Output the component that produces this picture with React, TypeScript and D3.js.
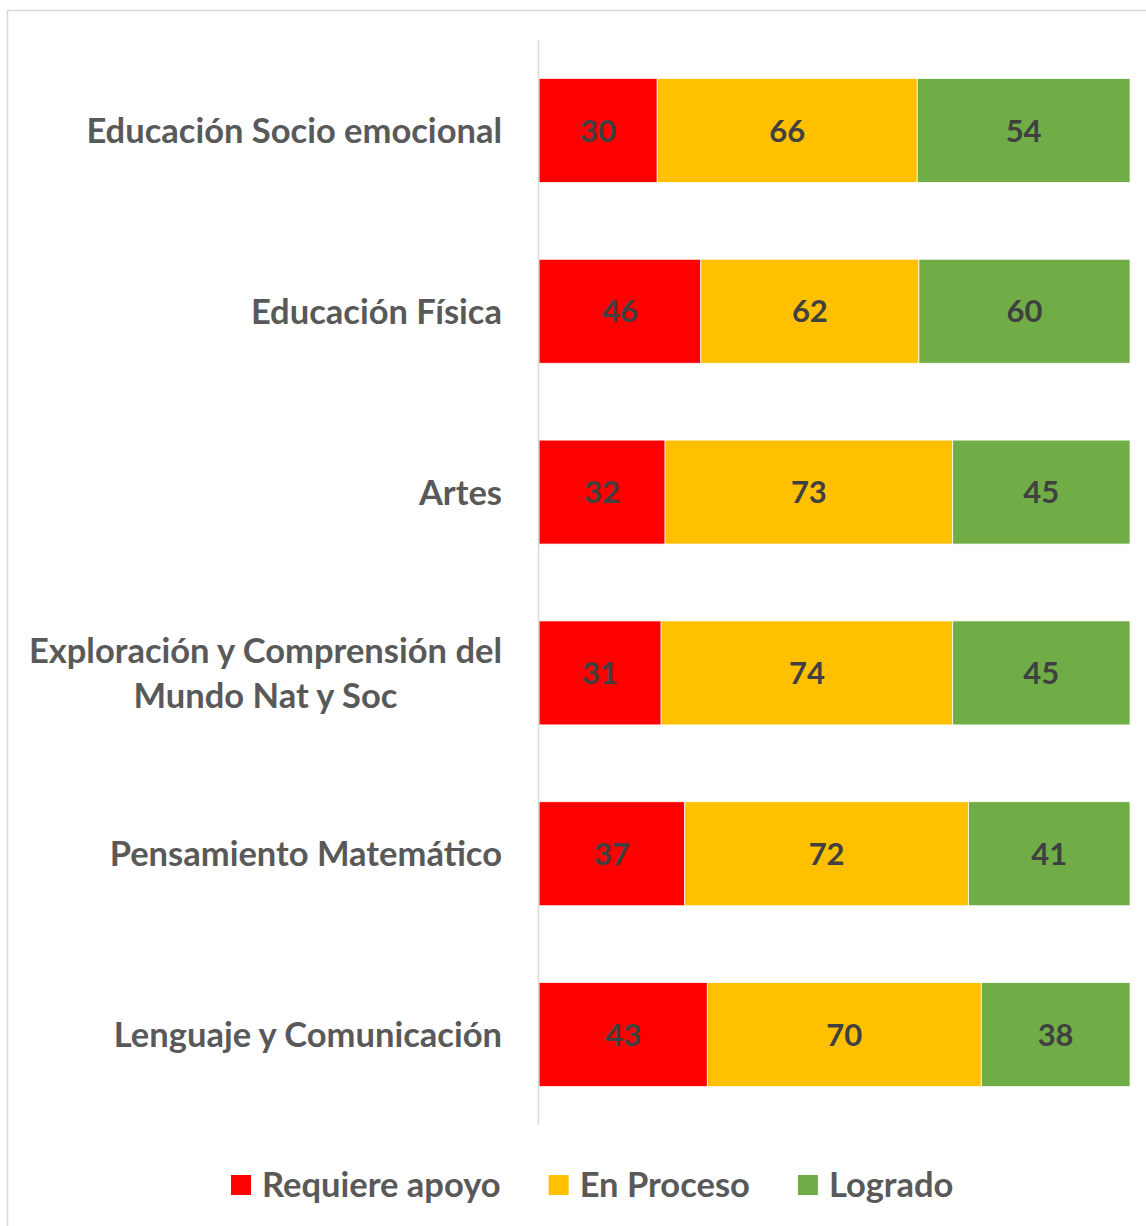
import React, { useEffect, useRef } from "react";
import * as d3 from "d3";

const categories = [
  "Educación Socio emocional",
  "Educación Física",
  "Artes",
  "Exploración y Comprensión del\nMundo Nat y Soc",
  "Pensamiento Matemático",
  "Lenguaje y Comunicación",
];
const seriesNames = ["Requiere apoyo", "En Proceso", "Logrado"];
const requiereApoyo = [30, 46, 32, 31, 37, 43];
const enProceso = [66, 62, 73, 74, 72, 70];
const logrado = [54, 60, 45, 45, 41, 38];
const colors = ["#FF0000", "#FFC000", "#70AD47"];

const W = 1146;
const H = 1226;
const FONT = "Lato, 'Open Sans', sans-serif";

export default function App() {
  const ref = useRef<SVGSVGElement>(null);

  useEffect(() => {
    const svg = d3.select(ref.current);
    svg.selectAll("*").remove();

    // chart frame
    svg.append("rect").attr("x", 7.5).attr("y", 10.5).attr("width", 1200).attr("height", 1300)
      .attr("fill", "#fff").attr("stroke", "#d9d9d9").attr("stroke-width", 1.5);

    const left = 539, right = 1130, top = 40, bottom = 1125;
    const rows = categories.map((c, i) => ({
      cat: c,
      vals: [requiereApoyo[i], enProceso[i], logrado[i]],
    }));

    const y = d3.scaleBand<number>().domain(d3.range(categories.length)).range([top, bottom]).paddingInner(0.425).paddingOuter(0.2125);
    const x = d3.scaleLinear().domain([0, 1]).range([left, right]);

    const g = svg.append("g");
    rows.forEach((r, i) => {
      const total = d3.sum(r.vals);
      let cum = 0;
      r.vals.forEach((v, k) => {
        const x0 = x(cum / total);
        const x1 = x((cum + v) / total);
        cum += v;
        g.append("rect").attr("x", x0).attr("y", y(i)!).attr("width", x1 - x0).attr("height", y.bandwidth())
          .attr("fill", colors[k]).attr("stroke", "#fff").attr("stroke-width", 0.75);
        g.append("text").attr("x", (x0 + x1) / 2).attr("y", y(i)! + y.bandwidth() / 2)
          .attr("dy", "0.36em").attr("text-anchor", "middle")
          .attr("font-family", FONT).attr("font-weight", 700).attr("font-size", 31)
          .attr("fill", "#404040").text(String(v));
      });
    });

    // axis line
    svg.append("line").attr("x1", left - 0.5).attr("x2", left - 0.5).attr("y1", top).attr("y2", bottom)
      .attr("stroke", "#d9d9d9").attr("stroke-width", 1.5);

    // category labels
    rows.forEach((r, i) => {
      const lines = r.cat.split("\n");
      const cy = y(i)! + y.bandwidth() / 2;
      const lh = 45;
      const t = svg.append("text").attr("font-family", FONT).attr("font-weight", 700).attr("font-size", 34.5)
        .attr("fill", "#595959");
      if (lines.length === 1) {
        t.attr("x", 502).attr("y", cy).attr("dy", "0.36em").attr("text-anchor", "end").text(lines[0]);
      } else {
        const spans = lines.map((l, j) =>
          t.append("tspan").attr("x", 0).attr("y", cy + (j - (lines.length - 1) / 2) * lh).attr("dy", "0.36em").text(l)
        );
        const widths = spans.map((s) => (s.node() as SVGTSpanElement).getComputedTextLength());
        const maxW = d3.max(widths)!;
        const cx = 502 - maxW / 2;
        spans.forEach((s) => s.attr("x", cx));
        t.attr("text-anchor", "middle");
      }
    });

    // legend
    const lg = svg.append("g");
    let lx = 231;
    const ly = 1185;
    seriesNames.forEach((n, k) => {
      lg.append("rect").attr("x", lx).attr("y", ly - 10).attr("width", 20).attr("height", 20).attr("fill", colors[k]);
      const tt = lg.append("text").attr("x", lx + 31).attr("y", ly).attr("dy", "0.36em")
        .attr("font-family", FONT).attr("font-weight", 700).attr("font-size", 34.5).attr("fill", "#595959").text(n);
      const w = (tt.node() as SVGTextElement).getComputedTextLength();
      lx = lx + 31 + w + 48;
    });
  }, []);

  return (
    <svg ref={ref} width={W} height={H} viewBox={`0 0 ${W} ${H}`}
      style={{ position: "absolute", left: 0, top: 0, background: "#fff" }} />
  );
}
